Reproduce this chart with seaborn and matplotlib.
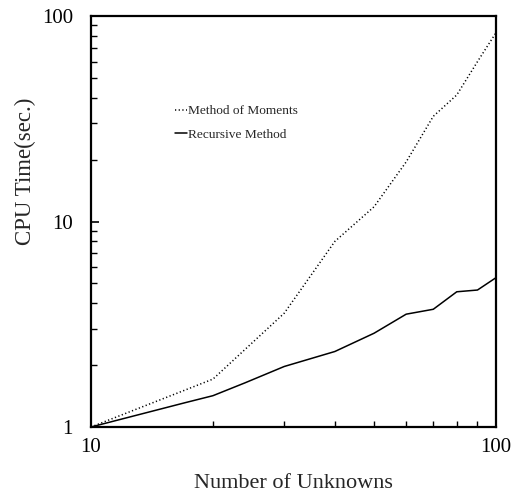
import matplotlib
matplotlib.use("Agg")
import matplotlib.pyplot as plt
import seaborn as sns
import pandas as pd
from matplotlib.ticker import FixedLocator, FixedFormatter, NullFormatter, LogLocator
from matplotlib.lines import Line2D

# Number of unknowns
unknowns = [10, 20, 30, 40, 50, 60, 70, 80, 90, 100]
# CPU time in seconds
mom_time = [1.0, 1.71, 3.58, 8.0, 11.8, 19.5, 32.5, 41.3, 60.0, 83.0]
rec_unknowns = [10, 17, 20, 24, 30, 40, 50, 60, 70, 80, 90, 100]
rec_time = [1.0, 1.31, 1.42, 1.64, 1.97, 2.33, 2.86, 3.54, 3.74, 4.55, 4.64, 5.33]

mom_label = "Method of Moments"
rec_label = "Recursive Method"

df = pd.concat([
    pd.DataFrame({"n": unknowns, "t": mom_time, "method": mom_label}),
    pd.DataFrame({"n": rec_unknowns, "t": rec_time, "method": rec_label}),
], ignore_index=True)

sns.set_style("ticks")
plt.rcParams["font.family"] = ["Liberation Serif", "DejaVu Serif"]

fig = plt.figure(figsize=(5.13, 4.93), dpi=100)
ax = fig.add_axes([0.1774, 0.1339, 0.7895, 0.8336])

sns.lineplot(data=df, x="n", y="t", hue="method", style="method",
             palette={mom_label: "black", rec_label: "black"},
             dashes={mom_label: (0.8, 1.6), rec_label: ""},
             linewidth=1.1, ax=ax, legend=False, sort=False)

ax.set_xscale("log")
ax.set_yscale("log")
ax.set_xlim(10, 100)
ax.set_ylim(1, 100)

ax.xaxis.set_major_locator(FixedLocator([10, 100]))
ax.xaxis.set_major_formatter(FixedFormatter(["10", "100"]))
ax.xaxis.set_minor_locator(LogLocator(base=10, subs=range(2, 10)))
ax.xaxis.set_minor_formatter(NullFormatter())
ax.yaxis.set_major_locator(FixedLocator([1, 10, 100]))
ax.yaxis.set_major_formatter(FixedFormatter(["1", "10", "100"]))
ax.yaxis.set_minor_locator(LogLocator(base=10, subs=range(2, 10)))
ax.yaxis.set_minor_formatter(NullFormatter())

ax.tick_params(axis="both", which="both", direction="in", colors="black",
               labelsize=15)
ax.tick_params(axis="both", which="major", length=6, width=1.2)
ax.tick_params(axis="both", which="minor", length=4, width=1.0)
ax.tick_params(axis="x", which="major", pad=8, length=0)
ax.tick_params(axis="y", which="major", pad=13)

for s in ax.spines.values():
    s.set_linewidth(1.6)
    s.set_color("black")

ax.set_xlabel("Number of Unknowns", fontsize=16, labelpad=12)
ax.set_ylabel("CPU Time(sec.)", fontsize=16.5)
ax.yaxis.set_label_coords(-0.135, 0.623)

handles = [Line2D([], [], color="black", linestyle=(0, (0.8, 1.6)), linewidth=1.1),
           Line2D([], [], color="black", linestyle="-", linewidth=1.1)]
ax.legend(handles, [mom_label, rec_label], loc="upper left",
          bbox_to_anchor=(0.19, 0.8), frameon=False, fontsize=9.6,
          handlelength=0.9, handletextpad=0.1, labelspacing=0.85,
          borderpad=0)

fig.savefig("out.png", dpi=100)
